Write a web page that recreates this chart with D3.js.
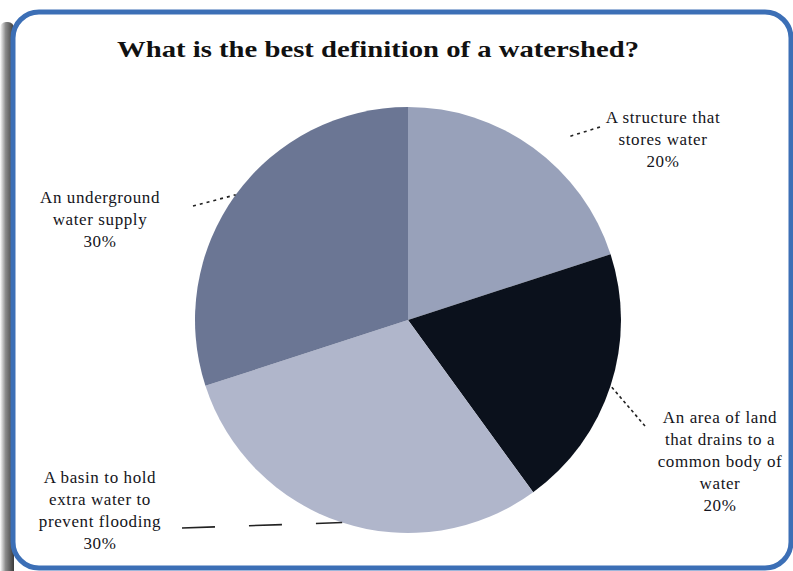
<!DOCTYPE html>
<html>
<head>
<meta charset="utf-8">
<script src="https://cdn.jsdelivr.net/npm/d3@7/dist/d3.min.js"></script>
<style>
  html, body { margin: 0; padding: 0; background: #ffffff; }
  svg { display: block; }
</style>
</head>
<body>
<svg id="chart" width="793" height="571"></svg>
<script>
// ---- data ----
const title = "What is the best definition of a watershed?";
const categories = [
  "A structure  that stores water",
  "An area of land that drains to a common body of water",
  "A basin to hold extra water to prevent flooding",
  "An underground water supply"
];
const labelLines = [
  ["A structure  that", "stores water"],
  ["An area of land", "that drains to a", "common body of", "water"],
  ["A basin to hold", "extra water to", "prevent flooding"],
  ["An underground", "water supply"]
];
const values = [20, 20, 30, 30];

// ---- style / layout ----
const colors = ["#98a1ba", "#0b111c", "#b0b6cb", "#6b7694"];
const W = 793, H = 571;
const cx = 408, cy = 320, R = 213;
// label anchor (center x, first baseline y), leader start fraction and end point
const labelLayout = [
  { x: 663, y: 123, lx: 600, ly: 127, dash: "3,4", from: 0.55 },
  { x: 720, y: 423, lx: 645, ly: 426, dash: "3,3", from: 0 },
  { x: 100, y: 483, lx: 182, ly: 528, dash: "33,34", from: 0 },
  { x: 100, y: 203, lx: 193, ly: 206, dash: "3,4", from: 0 }
];

const svg = d3.select("#chart");
const defs = svg.append("defs");
const g1 = defs.append("linearGradient").attr("id", "shadowL")
  .attr("x1", "0").attr("x2", "1").attr("y1", "0").attr("y2", "0");
g1.append("stop").attr("offset", "0%").attr("stop-color", "#ffffff");
g1.append("stop").attr("offset", "40%").attr("stop-color", "#8a8a8a");
g1.append("stop").attr("offset", "100%").attr("stop-color", "#3a3a3a");

// shadow on left
svg.append("rect").attr("x", 0).attr("y", 22).attr("width", 14).attr("height", 560)
  .attr("rx", 6).attr("fill", "url(#shadowL)");

// frame
svg.append("rect")
  .attr("x", 13).attr("y", 12).attr("width", 778).attr("height", 556)
  .attr("rx", 26).attr("ry", 26)
  .attr("fill", "#ffffff").attr("stroke", "#3c6fb6").attr("stroke-width", 5);

// title
svg.append("text")
  .attr("x", 378).attr("y", 57)
  .attr("text-anchor", "middle")
  .attr("font-family", "'Liberation Serif', 'DejaVu Serif', serif")
  .attr("font-weight", "bold")
  .attr("font-size", 23)
  .attr("fill", "#111")
  .attr("textLength", 522).attr("lengthAdjust", "spacingAndGlyphs")
  .text(title);

// pie
const pie = d3.pie().sort(null).value(d => d)(values);
const arc = d3.arc().innerRadius(0).outerRadius(R);
const arcMid = d3.arc().innerRadius(R).outerRadius(R);
const gp = svg.append("g").attr("transform", `translate(${cx},${cy})`);
gp.selectAll("path").data(pie).join("path")
  .attr("d", arc)
  .attr("fill", (d, i) => colors[i]);

// leaders
pie.forEach((d, i) => {
  const c = arcMid.centroid(d);
  const L = labelLayout[i];
  const x0 = cx + c[0], y0 = cy + c[1];
  const sx = x0 + (L.lx - x0) * L.from, sy = y0 + (L.ly - y0) * L.from;
  svg.append("line")
    .attr("x1", L.lx).attr("y1", L.ly)
    .attr("x2", sx).attr("y2", sy)
    .attr("stroke", "#222").attr("stroke-width", 1.6)
    .attr("stroke-dasharray", L.dash);
});

// labels
const lineH = 22;
pie.forEach((d, i) => {
  const L = labelLayout[i];
  const lines = labelLines[i].concat([values[i] + "%"]);
  const t = svg.append("text")
    .attr("text-anchor", "middle")
    .attr("font-family", "'Liberation Serif', 'DejaVu Serif', serif")
    .attr("font-size", 17)
    .attr("letter-spacing", 0.6)
    .attr("fill", "#141420");
  lines.forEach((s, k) => {
    t.append("tspan").attr("x", L.x).attr("y", L.y + k * lineH).text(s);
  });
});
</script>
</body>
</html>
